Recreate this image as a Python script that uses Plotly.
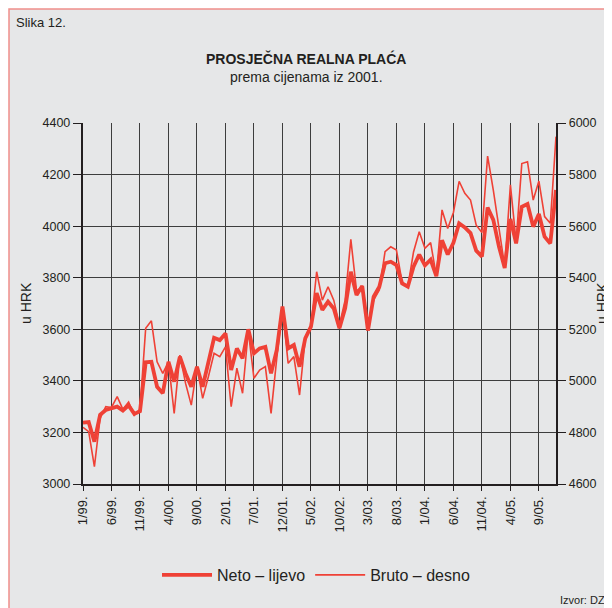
import plotly.graph_objects as go

# ---- data (monthly, 1/99 .. 12/05) ----
years = ["99", "00", "01", "02", "03", "04", "05"]
months = [f"{m}/{y}." for y in years for m in range(1, 13)]

neto = [3238, 3240, 3164, 3268, 3287, 3295, 3300, 3285, 3305, 3272, 3282, 3472,
        3474, 3377, 3352, 3474, 3397, 3494, 3429, 3377, 3455, 3377, 3480, 3567,
        3558, 3584, 3442, 3526, 3487, 3600, 3507, 3526, 3532, 3429, 3520, 3688,
        3526, 3539, 3455, 3565, 3610, 3740, 3675, 3707, 3681, 3604, 3681, 3823,
        3733, 3768, 3595, 3727, 3765, 3856, 3862, 3849, 3778, 3765, 3843, 3890,
        3848, 3870, 3806, 3945, 3890, 3935, 4011, 3995, 3973, 3905, 3882, 4072,
        4024, 3920, 3838, 4028, 3933, 4075, 4086, 3998, 4047, 3959, 3933, 4140]

bruto = [4820, 4803, 4667, 4855, 4900, 4897, 4939, 4890, 4918, 4866, 4890, 5204,
         5233, 5074, 5029, 5074, 4874, 5100, 4990, 4906, 5055, 4932, 5016, 5107,
         5094, 5132, 4900, 5049, 4952, 5194, 5010, 5042, 5055, 4874, 5087, 5281,
         5068, 5094, 4945, 5165, 5210, 5423, 5313, 5365, 5313, 5217, 5313, 5549,
         5349, 5365, 5217, 5313, 5352, 5501, 5520, 5507, 5383, 5365, 5500, 5578,
         5514, 5536, 5407, 5663, 5591, 5653, 5774, 5727, 5701, 5604, 5575, 5872,
         5740, 5590, 5443, 5760, 5540, 5843, 5850, 5701, 5775, 5637, 5611, 5947]

tick_labels = months[::5]
left_ticks = list(range(3000, 4401, 200))
right_ticks = list(range(4600, 6001, 200))

RED = "#ef4136"
BG = "#e6e7e8"
GRID = "#3d3d3d"
FONT = "Liberation Sans, Arial, sans-serif"

OFF = 8  # browser body margin
W, H = 612 - OFF, 608 - OFF
# plot area in page pixels
L, R, T, B = 83, 556, 123, 484
pw, ph = R - L, B - T


def px(x):  # page x -> paper
    return (x - L) / pw


def py(y):  # page y -> paper
    return (B - y) / ph


fig = go.Figure()
fig.add_trace(go.Scatter(x=months, y=neto, mode="lines", name="Neto – lijevo",
                         line=dict(color=RED, width=3.8), yaxis="y"))
fig.add_trace(go.Scatter(x=months, y=bruto, mode="lines", name="Bruto – desno",
                         line=dict(color=RED, width=1.6), yaxis="y2"))

fig.update_layout(
    width=W, height=H,
    margin=dict(l=L - OFF, r=W - (R - OFF), t=T - OFF, b=H - (B - OFF), pad=0),
    paper_bgcolor="white",
    plot_bgcolor=BG,
    font=dict(family=FONT, color="#231f20", size=12),
    showlegend=True,
    legend=dict(orientation="h", x=px(316), xanchor="center", y=py(575), yanchor="middle",
                font=dict(size=16, family=FONT), bgcolor="rgba(0,0,0,0)",
                itemwidth=50, tracegroupgap=0),
    xaxis=dict(type="category", categoryorder="array", categoryarray=months,
               range=[0, 83], tickmode="array", tickvals=tick_labels, ticktext=tick_labels,
               tickangle=-90, tickfont=dict(size=13), ticks="outside", ticklen=5,
               tickcolor="#231f20", showgrid=True, gridcolor=GRID, gridwidth=1.3,
               showline=True, linecolor="#231f20", linewidth=2.4, zeroline=False),
    yaxis=dict(range=[3000, 4400], tickvals=left_ticks, tickfont=dict(size=12.5),
               ticks="outside", ticklen=8, tickcolor="#231f20", showgrid=True,
               gridcolor=GRID, gridwidth=1.3, showline=True, linecolor="#231f20",
               linewidth=2.4, zeroline=False),
    yaxis2=dict(range=[4600, 6000], tickvals=right_ticks, tickfont=dict(size=12.5),
                overlaying="y", side="right", ticks="outside", ticklen=8,
                tickcolor="#231f20", showgrid=False, showline=True,
                linecolor="#231f20", linewidth=2.4, zeroline=False),
)

# panel background + border
fig.add_shape(type="rect", xref="paper", yref="paper", layer="below",
              x0=px(9), x1=px(640), y0=py(640), y1=py(9),
              fillcolor=BG, line=dict(color="#f08f8a", width=1.5))

ann = [
    dict(text="Slika 12.", x=px(14), y=py(22), xanchor="left", font=dict(size=13)),
    dict(text="<b>PROSJEČNA REALNA PLAĆA</b>", x=px(306), y=py(59), font=dict(size=14)),
    dict(text="prema cijenama iz 2001.", x=px(306), y=py(77), font=dict(size=14)),
    dict(text="u HRK", x=px(26), y=py(303), textangle=-90, font=dict(size=14)),
    dict(text="u HRK", x=px(602), y=py(303), textangle=-90, font=dict(size=14)),
    dict(text="Izvor: DZS", x=px(558), y=py(600), xanchor="left", font=dict(size=11)),
]
for a in ann:
    fig.add_annotation(xref="paper", yref="paper", showarrow=False, yanchor="middle",
                       **({"xanchor": "center"} | a))

fig.write_html("out.html")
